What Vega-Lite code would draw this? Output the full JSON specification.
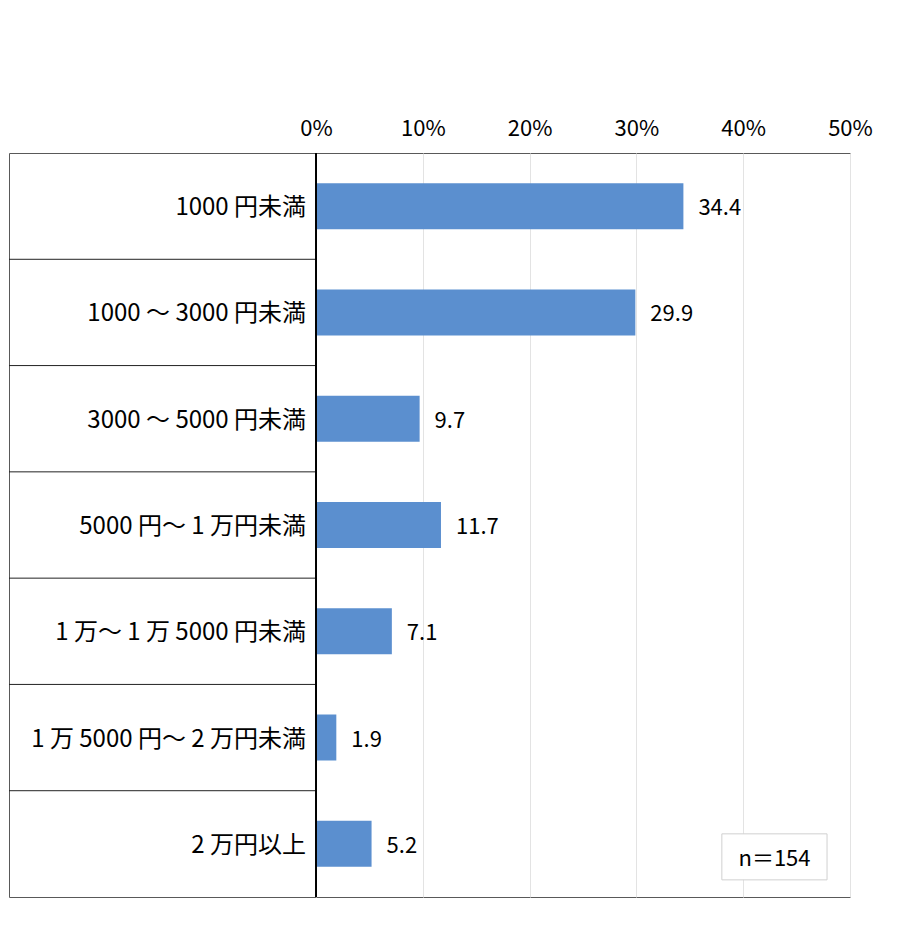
{
  "$schema": "https://vega.github.io/schema/vega-lite/v6.json",
  "autosize": "none",
  "padding": {"left": 9, "top": 153, "right": 50, "bottom": 35},
  "width": 841,
  "height": 744,
  "background": "white",
  "config": {
    "font": "Noto Sans CJK JP",
    "view": {"stroke": "#595959", "strokeWidth": 1}
  },
  "datasets": {
    "spend": [
      {"label": "1000 円未満", "pct": 34.4},
      {"label": "1000 ～ 3000 円未満", "pct": 29.9},
      {"label": "3000 ～ 5000 円未満", "pct": 9.7},
      {"label": "5000 円～ 1 万円未満", "pct": 11.7},
      {"label": "1 万～ 1 万 5000 円未満", "pct": 7.1},
      {"label": "1 万 5000 円～ 2 万円未満", "pct": 1.9},
      {"label": "2 万円以上", "pct": 5.2}
    ],
    "note": [
      {"label": "2 万円以上", "text": "n＝154"}
    ]
  },
  "data": {"name": "spend"},
  "layer": [
    {
      "mark": {"type": "bar", "color": "#5B8FCF"},
      "encoding": {
        "x": {
          "field": "pct",
          "type": "quantitative",
          "scale": {"domain": [-28.75, 50], "nice": false, "zero": false},
          "axis": {
            "orient": "top",
            "title": null,
            "values": [0, 10, 20, 30, 40, 50],
            "labelExpr": "datum.value + '%'",
            "labelFontSize": 22,
            "labelColor": "#000",
            "labelPadding": 13,
            "labelFlush": false,
            "domain": false,
            "ticks": false,
            "grid": true,
            "gridColor": "#e3e3e3"
          }
        },
        "y": {
          "field": "label",
          "type": "nominal",
          "sort": null,
          "scale": {"paddingInner": 0.567, "paddingOuter": 0.2835},
          "axis": null
        }
      }
    },
    {
      "mark": {"type": "text", "align": "left", "baseline": "middle", "dx": 15, "dy": 2, "fontSize": 22, "color": "#000"},
      "encoding": {
        "x": {"field": "pct", "type": "quantitative"},
        "y": {"field": "label", "type": "nominal", "sort": null},
        "text": {"field": "pct", "type": "quantitative", "format": ".1f"}
      }
    },
    {
      "mark": {"type": "text", "align": "right", "baseline": "middle", "dx": -10, "dy": 2, "fontSize": 24, "color": "#000"},
      "encoding": {
        "x": {"datum": 0},
        "y": {"field": "label", "type": "nominal", "sort": null},
        "text": {"field": "label"}
      }
    },
    {
      "transform": [{"filter": "datum.label != '1000 円未満'"}],
      "mark": {"type": "rule", "color": "#222", "strokeWidth": 1},
      "encoding": {
        "x": {"datum": -28.75},
        "x2": {"datum": 0},
        "y": {"field": "label", "type": "nominal", "sort": null, "bandPosition": -0.6547}
      }
    },
    {
      "mark": {"type": "rule", "color": "#000", "strokeWidth": 1},
      "encoding": {
        "x": {"datum": 0}
      }
    },
    {
      "data": {"name": "note"},
      "mark": {"type": "rect", "fill": "white", "stroke": "#d0d0d0", "strokeWidth": 1, "yOffset": 13},
      "encoding": {
        "x": {"datum": 38.0},
        "x2": {"datum": 47.85},
        "y": {"field": "label", "type": "nominal", "sort": null}
      }
    },
    {
      "data": {"name": "note"},
      "mark": {"type": "text", "align": "center", "baseline": "middle", "fontSize": 22, "color": "#000", "yOffset": 13, "dy": 2},
      "encoding": {
        "x": {"datum": 42.93},
        "y": {"field": "label", "type": "nominal", "sort": null},
        "text": {"field": "text"}
      }
    }
  ]
}
